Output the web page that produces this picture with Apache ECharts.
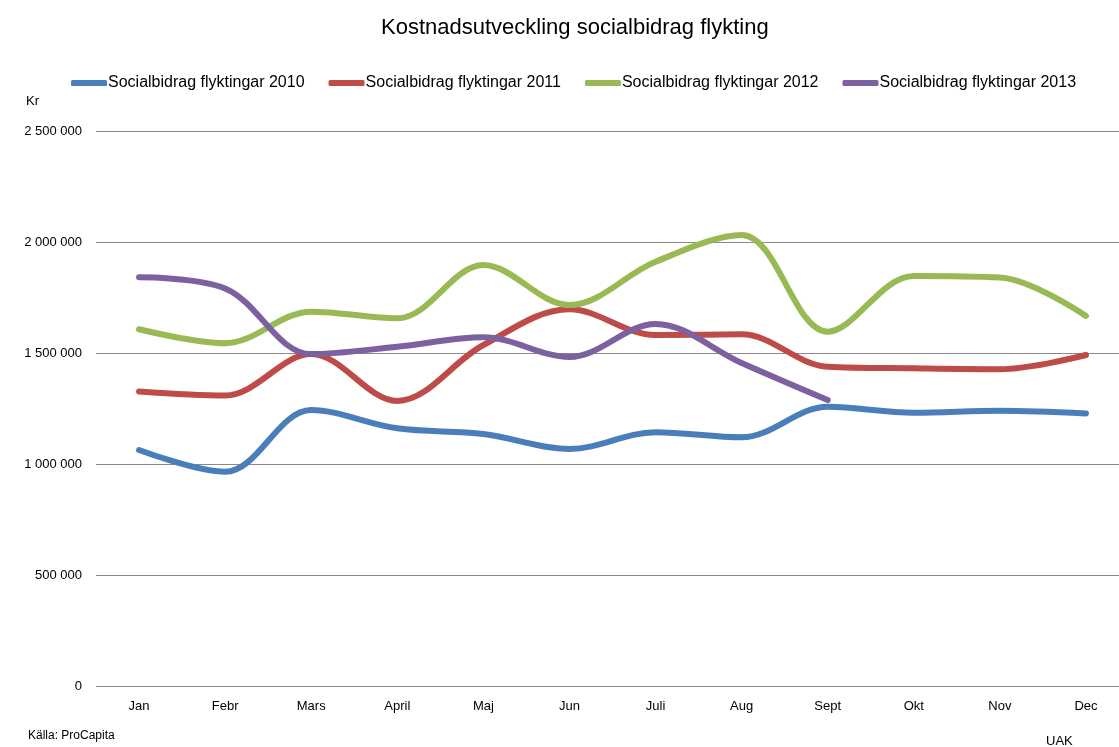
<!DOCTYPE html>
<html>
<head>
<meta charset="utf-8">
<script src="https://cdn.jsdelivr.net/npm/echarts@6/dist/echarts.min.js"></script>
<style>
  html, body { margin: 0; padding: 0; background: #fff; }
  #main { width: 1119px; height: 747px; }
</style>
</head>
<body>
<div id="main"></div>
<script>
// månader
var months = ["Jan", "Febr", "Mars", "April", "Maj", "Jun", "Juli", "Aug", "Sept", "Okt", "Nov", "Dec"];

// kostnader per år (kr)
var flykt2010 = [1063000, 965000, 1243000, 1161000, 1135000, 1068000, 1143000, 1120000, 1258000, 1231000, 1240000, 1228000];
var flykt2011 = [1327000, 1309000, 1495000, 1284000, 1536000, 1697000, 1581000, 1584000, 1438000, 1431000, 1427000, 1491000];
var flykt2012 = [1607000, 1544000, 1686000, 1656000, 1896000, 1716000, 1911000, 2032000, 1596000, 1847000, 1840000, 1667000];
var flykt2013 = [1841000, 1791000, 1495000, 1528000, 1571000, 1482000, 1631000, 1455000, 1288000, null, null, null];

var seriesNames = ["Socialbidrag flyktingar 2010", "Socialbidrag flyktingar 2011", "Socialbidrag flyktingar 2012", "Socialbidrag flyktingar 2013"];
var colors = ["#4A7EBB", "#BE4B48", "#98B954", "#7D60A0"];
var yTicks = [0, 500000, 1000000, 1500000, 2000000, 2500000];

var chart = echarts.init(document.getElementById("main"));

function fmt(v) {
    return String(v).replace(/\B(?=(\d{3})+(?!\d))/g, " ");
}

function line(name, data) {
    return {
        name: name,
        type: "line",
        data: data,
        smooth: 0.35,
        symbol: "none",
        lineStyle: { width: 6, cap: "round", join: "round" }
    };
}

var option = {
    animation: false,
    color: colors,
    textStyle: { fontFamily: "Liberation Sans, Arial, sans-serif" },
    title: {
        text: "Kostnadsutveckling socialbidrag flykting",
        left: 376,
        top: 12,
        textStyle: { fontSize: 22, fontWeight: "normal", color: "#000" }
    },
    legend: {
        top: 70,
        left: 66,
        itemWidth: 36,
        itemHeight: 6,
        itemGap: 24,
        icon: "roundRect",
        textStyle: { fontSize: 16, color: "#000", padding: [0, 0, 0, -4] },
        data: seriesNames
    },
    // Dec ligger delvis utanför bilden i originalet
    grid: { left: 96, width: 1033, top: 131, bottom: 61, outerBoundsMode: "none" },
    xAxis: {
        type: "category",
        data: months,
        boundaryGap: true,
        axisLine: { show: false },
        axisTick: { show: false },
        axisLabel: { color: "#000", fontSize: 13, margin: 14 }
    },
    yAxis: {
        type: "value",
        min: yTicks[0],
        max: yTicks[yTicks.length - 1],
        interval: 500000,
        axisLine: { show: false },
        axisTick: { show: false },
        axisLabel: { color: "#000", fontSize: 13, margin: 14, formatter: fmt },
        splitLine: { lineStyle: { color: "#8a8a8a", width: 1 } }
    },
    graphic: [
        { type: "text", left: 26, top: 95, style: { text: "Kr", fontSize: 13, fill: "#000", fontFamily: "Liberation Sans, Arial, sans-serif" } },
        { type: "text", left: 28, top: 730, style: { text: "Källa: ProCapita", fontSize: 12, fill: "#000", fontFamily: "Liberation Sans, Arial, sans-serif" } },
        { type: "text", left: 1046, top: 735, style: { text: "UAK", fontSize: 13, fill: "#000", fontFamily: "Liberation Sans, Arial, sans-serif" } }
    ],
    series: [
        line(seriesNames[0], flykt2010),
        line(seriesNames[1], flykt2011),
        line(seriesNames[2], flykt2012),
        line(seriesNames[3], flykt2013)
    ]
};

chart.setOption(option);
</script>
</body>
</html>
